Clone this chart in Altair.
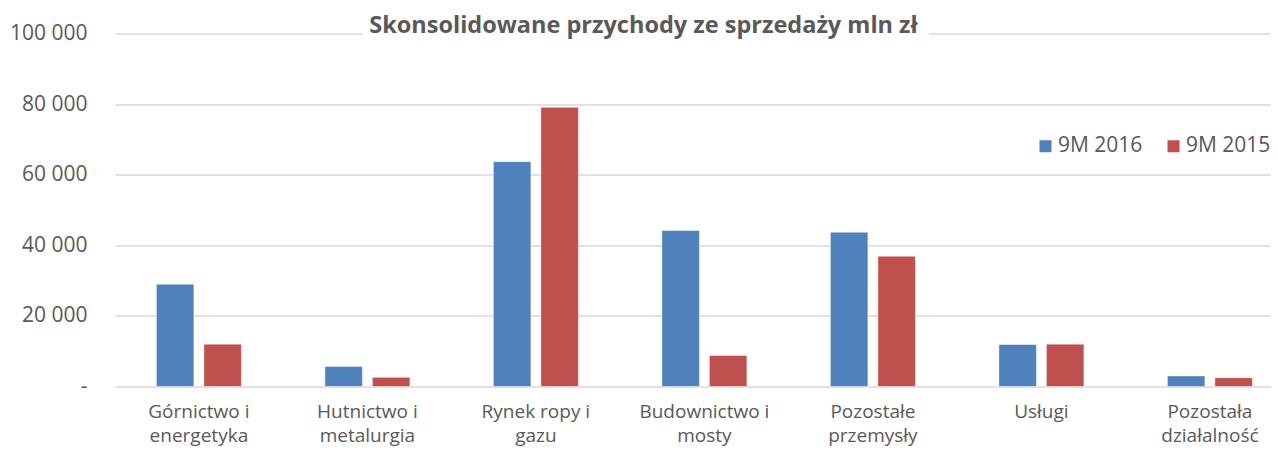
import altair as alt
import pandas as pd

categories = [
    "Górnictwo i\nenergetyka",
    "Hutnictwo i\nmetalurgia",
    "Rynek ropy i\ngazu",
    "Budownictwo i\nmosty",
    "Pozostałe\nprzemysły",
    "Usługi",
    "Pozostała\ndziałalność",
]
series = ["9M 2016", "9M 2015"]
values_2016 = [29000, 5700, 63700, 44200, 43700, 11900, 3000]
values_2015 = [12000, 2600, 79100, 8800, 36900, 12000, 2500]
y_ticks = [0, 20000, 40000, 60000, 80000, 100000]
title_text = "Skonsolidowane przychody ze sprzedaży mln zł"

rows = []
for c, a, b in zip(categories, values_2016, values_2015):
    rows.append({"category": c, "series": series[0], "value": a})
    rows.append({"category": c, "series": series[1], "value": b})
df = pd.DataFrame(rows)
title_df = pd.DataFrame({"t": [title_text]})

FONT = "Open Sans"
GRAY = "#595959"

bars = alt.Chart(df).mark_bar(stroke="white", strokeWidth=0.8, strokeOpacity=0.6).encode(
    x=alt.X(
        "category:N",
        sort=categories,
        scale=alt.Scale(paddingInner=0.4955, paddingOuter=0.178, align=0.69),
        axis=alt.Axis(
            title=None,
            labelAngle=0,
            labelExpr="split(datum.label, '\\n')",
            labelFontSize=19,
            labelFont=FONT,
            labelColor=GRAY,
            labelLineHeight=24,
            labelPadding=16,
            ticks=False,
            domain=False,
        ),
    ),
    xOffset=alt.XOffset("series:N", sort=series, scale=alt.Scale(paddingInner=0.21)),
    y=alt.Y(
        "value:Q",
        scale=alt.Scale(domain=[0, 100000], nice=False),
        axis=alt.Axis(
            title=None,
            values=y_ticks,
            labelExpr="datum.value == 0 ? '-' : replace(format(datum.value, ',d'), regexp(',', 'g'), ' ')",
            labelFontSize=21,
            labelFont=FONT,
            labelColor=GRAY,
            labelPadding=28,
            grid=True,
            gridColor="#D9D9D9",
            gridWidth=1.5,
            domain=False,
            ticks=False,
        ),
    ),
    color=alt.Color(
        "series:N",
        sort=series,
        scale=alt.Scale(domain=series, range=["#4F81BD", "#C0504D"]),
        legend=alt.Legend(
            title=None,
            orient="none",
            legendX=920,
            legendY=102,
            direction="horizontal",
            symbolType="square",
            symbolSize=144,
            symbolStrokeWidth=0,
            labelFontSize=21,
            labelFont=FONT,
            labelColor=GRAY,
            labelOffset=2,
            columnPadding=20,
        ),
    ),
)

title_bg = alt.Chart(title_df).mark_rect(color="white").encode(
    x=alt.value(247), x2=alt.value(814), y=alt.value(-4), y2=alt.value(4)
)
title = alt.Chart(title_df).mark_text(
    font=FONT, fontSize=23.5, fontWeight="bold", color=GRAY, baseline="alphabetic", align="center"
).encode(text="t:N", x=alt.value(528.5), y=alt.value(-1))

chart = alt.layer(bars, title_bg, title).properties(
    width=1156,
    height=353,
    padding={"left": 107, "top": 25.5, "right": 0, "bottom": 62.5},
    autosize=alt.AutoSizeParams(type="none"),
).configure_view(stroke=None)

chart.save("out.html", embed_options={"renderer": "svg", "actions": False})
